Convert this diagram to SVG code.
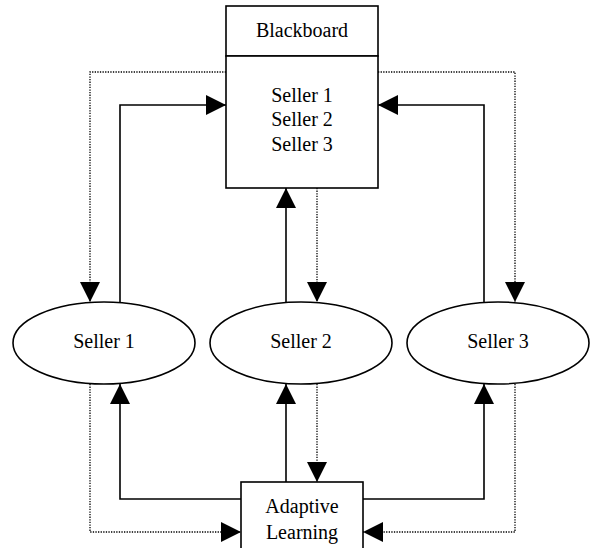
<svg xmlns="http://www.w3.org/2000/svg" width="592" height="548" viewBox="0 0 592 548">
<style>
.box{fill:#fff;stroke:#000;stroke-width:1.6}
.t{font-family:"Liberation Serif","Times New Roman",serif;font-size:20px;fill:#000;text-anchor:middle}
.s{fill:none;stroke:#000;stroke-width:1.6}
.d{fill:none;stroke:#000;stroke-width:1.3;stroke-dasharray:1.3,1.3}
</style>
<defs>
<marker id="ah" viewBox="0 0 20 20" refX="20" refY="10" markerWidth="20" markerHeight="20" markerUnits="userSpaceOnUse" orient="auto">
<path d="M0,0 L20,10 L0,20 z" fill="#000"/>
</marker>
</defs>
<rect width="592" height="548" fill="#fff"/>
<g id="connectors">
<path class="d" d="M226,72 H90 V302" marker-end="url(#ah)"/>
<path class="s" d="M120,302 V105 H226" marker-end="url(#ah)"/>
<path class="d" d="M378,72 H515 V302" marker-end="url(#ah)"/>
<path class="s" d="M484,302 V105 H378" marker-end="url(#ah)"/>
<path class="s" d="M286,302 V188" marker-end="url(#ah)"/>
<path class="d" d="M317,188 V302" marker-end="url(#ah)"/>
<path class="s" d="M241,499 H120 V384" marker-end="url(#ah)"/>
<path class="s" d="M286,482 V384" marker-end="url(#ah)"/>
<path class="d" d="M317,384 V482" marker-end="url(#ah)"/>
<path class="s" d="M363,499 H484 V384" marker-end="url(#ah)"/>
<path class="d" d="M90,384 V532 H241" marker-end="url(#ah)"/>
<path class="d" d="M515,384 V532 H363" marker-end="url(#ah)"/>
</g>
<g id="blackboard">
<rect class="box" x="226" y="6" width="152" height="50"/>
<rect class="box" x="226" y="56" width="152" height="132"/>
<text class="t" x="302" y="37">Blackboard</text>
<text class="t" x="302" y="102">Seller 1</text>
<text class="t" x="302" y="126">Seller 2</text>
<text class="t" x="302" y="151">Seller 3</text>
</g>
<g id="seller1">
<ellipse class="box" cx="104" cy="343" rx="91" ry="41"/>
<text class="t" x="104" y="348">Seller 1</text>
</g>
<g id="seller2">
<ellipse class="box" cx="301" cy="343" rx="91" ry="41"/>
<text class="t" x="301" y="348">Seller 2</text>
</g>
<g id="seller3">
<ellipse class="box" cx="498" cy="343" rx="91" ry="41"/>
<text class="t" x="498" y="348">Seller 3</text>
</g>
<g id="adaptive">
<rect class="box" x="241" y="482" width="122" height="80"/>
<text class="t" x="302" y="513">Adaptive</text>
<text class="t" x="302" y="539">Learning</text>
</g>
</svg>
